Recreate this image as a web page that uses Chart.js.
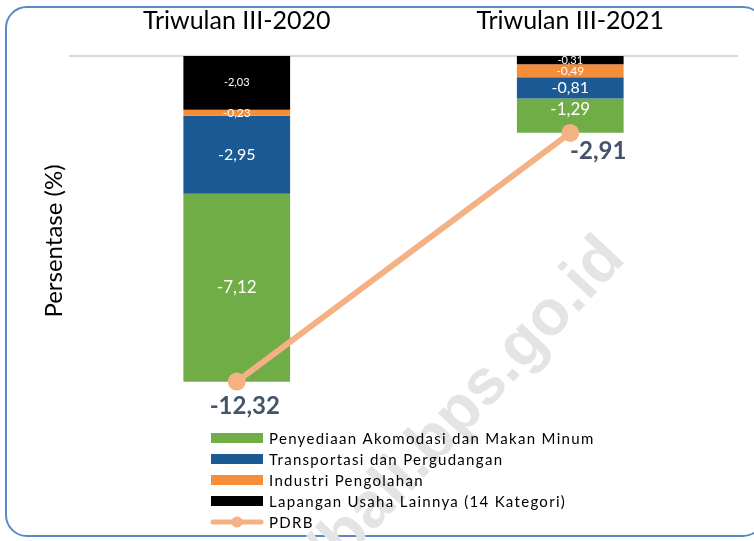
<!DOCTYPE html>
<html>
<head>
<meta charset="utf-8">
<script src="https://cdn.jsdelivr.net/npm/chart.js@4/dist/chart.umd.min.js"></script>
<style>
  html, body { margin: 0; padding: 0; background: #fff; overflow: hidden; }
  #wrap { position: relative; width: 754px; height: 541px; overflow: hidden; }
  #frame { position: absolute; left: 5px; top: 6px; width: 760px; height: 531px;
           border: 2px solid #5b87c9; border-radius: 22px; box-sizing: border-box; }
  canvas { position: absolute; left: 0; top: 0; }
</style>
</head>
<body>
<div id="wrap">
  <div id="frame"></div>
  <canvas id="c" width="754" height="541"></canvas>
</div>
<script>
const categories = ['Triwulan III-2020', 'Triwulan III-2021'];
const lainnya = [-2.03, -0.31];
const industri = [-0.23, -0.49];
const transportasi = [-2.95, -0.81];
const akomodasi = [-7.12, -1.29];
const pdrb = [-12.32, -2.91];

const FONT = 'Lato, "Liberation Sans", sans-serif';
const fmt = v => v.toFixed(2).replace('.', ',');

const watermark = {
  id: 'watermark',
  beforeDraw(chart) {
    const ctx = chart.ctx;
    ctx.save();
    ctx.font = 'bold 64px "Liberation Sans", Arial, sans-serif';
    ctx.fillStyle = '#e4e4e4';
    ctx.textBaseline = 'middle';
    const full = 'https://bali.bps.go.id';
    const part = 'bps.go.id';
    const w = ctx.measureText(full).width;
    const w2 = ctx.measureText(part).width;
    ctx.translate(517, 352);
    ctx.rotate(-47 * Math.PI / 180);
    ctx.fillText(full, w2 / 2 - w, 0);
    ctx.restore();
  }
};

const barLabels = {
  id: 'barLabels',
  afterDatasetsDraw(chart) {
    const ctx = chart.ctx;
    ctx.save();
    ctx.textAlign = 'center';
    ctx.textBaseline = 'middle';
    chart.data.datasets.forEach((ds, i) => {
      if (ds.type !== 'bar') return;
      const meta = chart.getDatasetMeta(i);
      meta.data.forEach((el, j) => {
        const p = el.getCenterPoint();
        ctx.font = ds.labelSize + 'px ' + FONT;
        ctx.fillStyle = '#ffffff';
        ctx.fillText(fmt(ds.data[j]), p.x, p.y + (ds.labelDy ? ds.labelDy[j] : 0));
      });
    });
    ctx.restore();
  }
};

const lineLabels = {
  id: 'lineLabels',
  afterDraw(chart) {
    const ctx = chart.ctx;
    ctx.save();
    ctx.textAlign = 'center';
    ctx.textBaseline = 'middle';
    chart.data.datasets.forEach((ds, i) => {
      if (ds.type !== 'line') return;
      const meta = chart.getDatasetMeta(i);
      meta.data.forEach((el, j) => {
        ctx.font = 'bold 24px ' + FONT;
        ctx.fillStyle = '#44546a';
        ctx.fillText(fmt(ds.data[j]), el.x + ds.labelOffset[j][0], el.y + ds.labelOffset[j][1]);
      });
    });
    ctx.restore();
  }
};

const customLegend = {
  id: 'customLegend',
  afterDraw(chart) {
    const ctx = chart.ctx;
    const order = [3, 2, 1, 0, 4];
    const x0 = 211, x1 = 263, tx = 269, y0 = 438, step = 21;
    ctx.save();
    ctx.font = '15px ' + FONT;
    ctx.letterSpacing = '1.3px';
    ctx.textBaseline = 'middle';
    ctx.textAlign = 'left';
    order.forEach((di, k) => {
      const ds = chart.data.datasets[di];
      const y = y0 + k * step;
      if (ds.type === 'bar') {
        ctx.fillStyle = ds.backgroundColor;
        ctx.fillRect(x0, y - 5, x1 - x0, 10);
      } else {
        ctx.strokeStyle = ds.borderColor;
        ctx.lineWidth = 5;
        ctx.lineCap = 'round';
        ctx.beginPath();
        ctx.moveTo(x0 + 2, y);
        ctx.lineTo(x1 - 2, y);
        ctx.stroke();
        ctx.fillStyle = ds.borderColor;
        ctx.beginPath();
        ctx.arc((x0 + x1) / 2, y, 5.5, 0, Math.PI * 2);
        ctx.fill();
      }
      ctx.fillStyle = '#000';
      ctx.fillText(ds.label, tx, y + 1);
    });
    ctx.restore();
  }
};

new Chart(document.getElementById('c'), {
  data: {
    labels: categories,
    datasets: [
      { type: 'bar', label: 'Lapangan Usaha Lainnya (14 Kategori)', data: lainnya,
        backgroundColor: '#000000', stack: 'lu', order: 1, labelSize: 11 },
      { type: 'bar', label: 'Industri Pengolahan', data: industri,
        backgroundColor: '#f68d3a', stack: 'lu', order: 1, labelSize: 12 },
      { type: 'bar', label: 'Transportasi dan Pergudangan', data: transportasi,
        backgroundColor: '#1b5a94', stack: 'lu', order: 1, labelSize: 16 },
      { type: 'bar', label: 'Penyediaan Akomodasi dan Makan Minum', data: akomodasi,
        backgroundColor: '#70ad47', stack: 'lu', order: 1, labelSize: 17, labelDy: [0, -6] },
      { type: 'line', label: 'PDRB', data: pdrb, stack: 'pdrb', order: 0,
        borderColor: '#f4b183', backgroundColor: '#f4b183', borderWidth: 6,
        pointRadius: 9, pointHoverRadius: 9, pointBorderWidth: 0,
        pointBackgroundColor: '#f4b183', tension: 0,
        labelOffset: [[8, 25], [28, 18]] }
    ]
  },
  options: {
    responsive: false,
    animation: false,
    layout: { padding: { left: 38, right: 17, top: 6, bottom: 115 } },
    plugins: { legend: { display: false }, tooltip: { enabled: false } },
    datasets: { bar: { categoryPercentage: 1, barPercentage: 0.32 } },
    scales: {
      x: {
        position: 'top',
        stacked: true,
        grid: { display: false, drawTicks: false },
        border: { display: true, color: '#d9d9d9', width: 2 },
        ticks: { color: '#000', font: { family: FONT, size: 25 }, padding: 20 },
        afterFit(scale) { scale.height = 50; }
      },
      y: {
        stacked: true,
        min: -14, max: 0,
        grid: { display: false, drawTicks: false },
        border: { display: false },
        ticks: { display: false },
        title: { display: true, text: 'Persentase (%)', color: '#000',
                 font: { family: FONT, size: 24 }, padding: { top: 2, bottom: 2 } },
        afterFit(scale) { scale.width = 32; }
      }
    }
  },
  plugins: [watermark, barLabels, lineLabels, customLegend]
});
</script>
</body>
</html>
